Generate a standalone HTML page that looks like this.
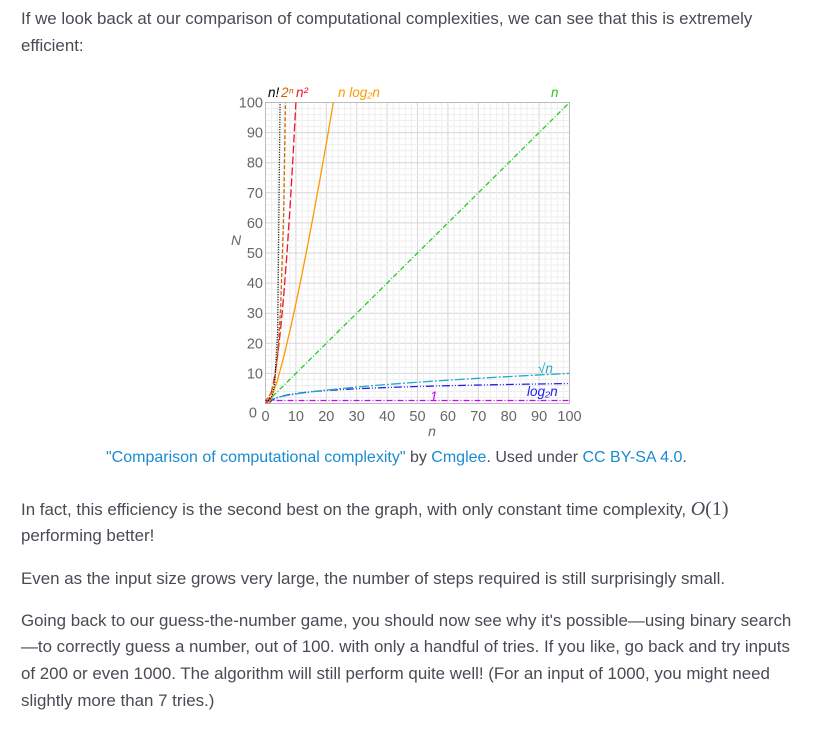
<!DOCTYPE html>
<html><head><meta charset="utf-8">
<style>
body{margin:0;width:815px;height:739px;background:#fff;font-family:"Liberation Sans",sans-serif;color:#4a4a55;font-size:16.9px;overflow:hidden}
.l{position:absolute;left:21px;white-space:nowrap;line-height:20px}
a{color:#1a8bd0;text-decoration:none}
svg{position:absolute;left:0;top:0}
</style></head><body>
<div>
<div class="l" style="top:9px">If we look back at our comparison of computational complexities, we can see that this is extremely</div>
<div class="l" style="top:36px">efficient:</div>
</div>
<svg id="chart" width="815" height="450" font-family="Liberation Sans, sans-serif"></svg>
<div class="l" style="top:448px;left:106px;font-size:16px"><a href="#">"Comparison of computational complexity"</a> by <a href="#">Cmglee</a>. Used under <a href="#">CC BY-SA 4.0</a>.</div>
<div>
<div class="l" style="top:499px">In fact, this efficiency is the second best on the graph, with only constant time complexity, <span style="font-family:'Liberation Serif',serif;font-size:20px"><i>O</i>(1)</span></div>
<div class="l" style="top:526px">performing better!</div>
</div>
<div class="l" style="top:569px">Even as the input size grows very large, the number of steps required is still surprisingly small.</div>
<div>
<div class="l" style="top:611px">Going back to our guess-the-number game, you should now see why it's possible—using binary search</div>
<div class="l" style="top:637px">—to correctly guess a number, out of 100. with only a handful of tries. If you like, go back and try inputs</div>
<div class="l" style="top:664px">of 200 or even 1000. The algorithm will still perform quite well! (For an input of 1000, you might need</div>
<div class="l" style="top:691px">slightly more than 7 tries.)</div>
</div>
<script>
const xTicks=[0,10,20,30,40,50,60,70,80,90,100];
const yTicks=[0,10,20,30,40,50,60,70,80,90,100];
const factN=[0,1,2,3,4,5];const factY=[1,1,2,6,24,120];
const expN=[0,1,2,3,4,5,6,7];const expY=[1,2,4,8,16,32,64,128];
const sqN=[0,1,2,3,4,5,6,7,8,9,10,11];const sqY=[0,1,4,9,16,25,36,49,64,81,100,121];
const nlN=[0,1,2,4,6,8,10,12,14,16,18,20,22,23];const nlY=[0,0,2,8,15.5,24,33.2,43,53.3,64,75,86.4,98.1,104];
const linN=[0,100];const linY=[0,100];
const rtN=[0,1,2,3,4,5,6,8,10,15,20,30,40,50,60,70,80,90,100];const rtY=[0,1,1.41,1.73,2,2.24,2.45,2.83,3.16,3.87,4.47,5.48,6.32,7.07,7.75,8.37,8.94,9.49,10];
const lgN=[1,2,3,4,5,6,8,10,15,20,30,40,50,60,70,80,90,100];const lgY=[0,1,1.58,2,2.32,2.58,3,3.32,3.91,4.32,4.91,5.32,5.64,5.91,6.13,6.32,6.49,6.64];
const cN=[0,100];const cY=[1,1];
const X0=265.5,X1=569.5,Y0=403.5,Y1=102.5;
const sx=v=>X0+(X1-X0)*v/100, sy=v=>Y0-(Y0-Y1)*v/100;
const svg=document.getElementById('chart');const NS='http://www.w3.org/2000/svg';
function mk(t,a,p){const e=document.createElementNS(NS,t);for(const k in a)e.setAttribute(k,a[k]);(p||svg).appendChild(e);return e;}
const defs=mk('defs',{});const cp=mk('clipPath',{id:'cp'},defs);mk('rect',{x:X0,y:Y1,width:X1-X0,height:Y0-Y1},cp);
for(let v=0;v<=100;v+=2){
 const minor=v%10!==0;
 const g1=mk('line',{x1:sx(v),x2:sx(v),y1:Y1,y2:Y0,stroke:minor?'#efefef':'#d6d6d6','stroke-width':1});
 
 const g2=mk('line',{y1:sy(v),y2:sy(v),x1:X0,x2:X1,stroke:minor?'#efefef':'#d6d6d6','stroke-width':1});
 
}
const fr=mk('rect',{x:X0,y:Y1,width:X1-X0,height:Y0-Y1,fill:'none',stroke:'#bbb'});

xTicks.forEach(v=>{const t=mk('text',{x:sx(v),y:421,'text-anchor':'middle','font-size':14.5,fill:'#666'});t.textContent=v;
 });
yTicks.forEach(v=>{const t=mk('text',{x:v==0?257:263,y:sy(v)+(v==0?14:5),'text-anchor':'end','font-size':14.5,fill:'#666'});t.textContent=v;
 });
let t=mk('text',{x:432,y:436,'font-size':14,fill:'#666','font-style':'italic','text-anchor':'middle'});t.textContent='n';

t=mk('text',{x:236,y:245,'font-size':14,fill:'#666','font-style':'italic','text-anchor':'middle'});t.textContent='N';

const series=[
 [cN,cY,'#cc00ff','6 2 1 2','series-constant'],
 [lgN,lgY,'#2222ee','8 2 1 2 1 2','series-log'],
 [rtN,rtY,'#22aacc','10 2 2 2','series-sqrt'],
 [linN,linY,'#22cc22','5 2 1 2','series-linear'],
 [nlN,nlY,'#ff9900','','series-nlogn'],
 [sqN,sqY,'#ee1133','8 3','series-quadratic'],
 [expN,expY,'#cc6600','4 2','series-exponential'],
 [factN,factY,'#000','1 1.5','series-factorial']];
series.forEach(s=>{const d=s[0].map((n,i)=>(i?'L':'M')+sx(n).toFixed(2)+','+sy(s[1][i]).toFixed(2)).join('');
 const p=mk('path',{d,fill:'none',stroke:s[2],'stroke-width':1.3,'stroke-dasharray':s[3],'clip-path':'url(#cp)'});
 });
const labels=[[268,97,'n!','#000'],[281,97,'2ⁿ','#cc6600'],[296,97,'n²','#ee1133'],[338,97,'n log₂n','#ff9900'],[551,97,'n','#22cc22'],[538,373,'√n','#22aacc'],[527,396,'log₂n','#2222ee'],[430,401,'1','#cc00ff']];
labels.forEach(l=>{const e=mk('text',{x:l[0],y:l[1],'font-size':13.5,fill:l[3],'font-style':'italic'});e.textContent=l[2];
 });
</script>
</body></html>
